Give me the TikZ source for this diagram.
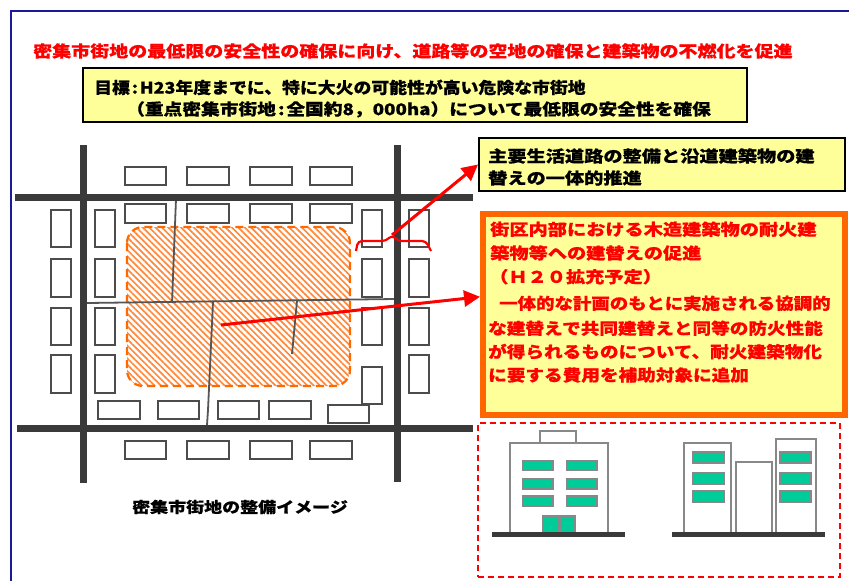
\documentclass[tikz,border=0pt]{standalone}
\usepackage{graphicx}
\usepackage{fontspec}
\setmainfont{Noto Sans CJK JP}[FakeStretch=1.2, BoldFeatures={FakeBold=0.5}]
\usetikzlibrary{arrows.meta,patterns.meta,calc}

\definecolor{framenavy}{HTML}{1A1A99}
\definecolor{roadgray}{HTML}{3A3A3A}
\definecolor{streetgray}{HTML}{555555}
\definecolor{hatchorange}{HTML}{FF8A3D}
\definecolor{zoneorange}{HTML}{FF6A00}
\definecolor{paleyellow}{HTML}{FFFF99}
\definecolor{fireorange}{HTML}{FF6600}
\definecolor{glassteal}{HTML}{00CC99}
\definecolor{wallgray}{HTML}{888888}

% horizontally condensed line of text
\newcommand{\narrowline}[2]{\scalebox{#1}[1]{#2}}

\tikzset{
  road/.style={draw=roadgray, line width=7pt},
  street/.style={draw=streetgray, line width=1.8pt},
  house/.style={draw=black!70, fill=white, line width=1.1pt},
  facade/.style={draw=wallgray, fill=white, line width=1.5pt},
  pane/.style={draw=wallgray, fill=glassteal, line width=1.2pt},
  ground/.style={draw=roadgray, line width=5pt},
  pointer/.style={draw=red, line width=3pt, -{Triangle[length=16pt,width=16pt]}},
  jp/.style={inner sep=0pt, font=\fontsize{16}{20}\selectfont\bfseries},
  jpred/.style={jp, text=red},
  panel/.style={anchor=north west, inner sep=0pt},
}

\begin{document}
\begin{tikzpicture}[x=1pt,y=-1pt]
\useasboundingbox (0,0) rectangle (849,581);

% outer frame
\draw[framenavy, line width=2pt] (849,11) -- (11,11) -- (11,581);

% headline
\node[jpred, anchor=base west] (headline) at (33,57.1)
  {\narrowline{0.99}{密集市街地の最低限の安全性の確保に向け、道路等の空地の確保と建築物の不燃化を促進}};

% goal panel
\node[panel, draw=black, line width=2pt, fill=paleyellow,
      minimum width=664pt, minimum height=54pt] (goal) at (82,67) {};
\node[jp, anchor=base west] (goal1) at (94,93.6)
  {\narrowline{0.93}{目標\hspace{2pt}:\hspace{2pt}H23年度までに、特に大火の可能性が高い危険な市街地}};
\node[jp, anchor=base west] (goal2) at (126,115.1)
  {\narrowline{0.975}{（重点密集市街地\hspace{2pt}:\hspace{2pt}全国約8，000ha）について最低限の安全性を確保}};

% ---------- block map ----------
% hatched core area
\draw[draw=zoneorange, line width=2.2pt, dash pattern=on 8pt off 5pt,
      rounded corners=16pt,
      pattern={Lines[angle=-45,distance=4.5pt,line width=1.7pt]},
      pattern color=hatchorange]
  (127,227) rectangle (350,386);

% narrow streets
\draw[street] (87,303) -- (395,299);
\draw[street] (176,199) -- (172,303);
\draw[street] (213,302) -- (208,410) -- (207,425);
\draw[street] (297,301) -- (292,354);

% buildings along the top and bottom roads
\foreach \xa/\xb in {125/166,187/229,250/292,310/352}{
  \draw[house] (\xa,167) rectangle (\xb,185);
  \draw[house] (\xa,204) rectangle (\xb,223);
  \draw[house] (\xa,441) rectangle (\xb,459);
}
% buildings along the side roads
\foreach \ya/\yb in {210/247,259/297,308/345,355/393}{
  \draw[house] (51,\ya) rectangle (71,\yb);
  \draw[house] (95,\ya) rectangle (115,\yb);
  \draw[house] (409,\ya) rectangle (429,\yb);
}
\foreach \ya/\yb in {210/247,259/297,308/345,367/404}{
  \draw[house] (362,\ya) rectangle (382,\yb);
}
% buildings inside the bottom road
\foreach \xa/\xb in {98/140,158/199,218/259,269/311}{
  \draw[house] (\xa,401) rectangle (\xb,419);
}
\draw[house] (328,405) rectangle (369,423);

% main roads
\draw[road] (15,197) -- (473,197);
\draw[road] (17,428) -- (473,428);
\draw[road] (83,145) -- (83,483);
\draw[road] (397,145) -- (397,482);

% caption
\node[jp, font=\fontsize{15}{18}\selectfont\bfseries] (caption) at (240,507)
  {密集市街地の整備イメージ};

% ---------- right panels ----------
\node[panel, draw=black, line width=2pt, fill=paleyellow,
      minimum width=366pt, minimum height=53pt] (roads) at (478,137) {};
\node[jp, anchor=base west] (roads1) at (488,162.1) {主要生活道路の整備と沿道建築物の建};
\node[jp, anchor=base west] (roads2) at (488,184.1) {替えの一体的推進};

\node[panel, draw=fireorange, line width=6pt, fill=paleyellow,
      minimum width=362pt, minimum height=201pt] (rebuild) at (480,210.7) {};
\node[jpred, anchor=base west] (rb1) at (490,235.4) {街区内部における木造建築物の耐火建};
\node[jpred, anchor=base west] (rb2) at (490,259.1) {築物等への建替えの促進};
\node[jpred, anchor=base west] (rb3) at (489,282.8) {（Ｈ２０拡充予定）};
\node[jpred, anchor=base west] (rb4) at (499,309.4) {\narrowline{0.96}{一体的な計画のもとに実施される協調的}};
\node[jpred, anchor=base west] (rb5) at (488,334.4) {\narrowline{0.97}{な建替えで共同建替えと同等の防火性能}};
\node[jpred, anchor=base west] (rb6) at (488,357.8) {\narrowline{0.97}{が得られるものについて、耐火建築物化}};
\node[jpred, anchor=base west] (rb7) at (488,381.1) {\narrowline{0.97}{に要する費用を補助対象に追加}};

% dashed panel with the two building types
\node[panel, draw=red, line width=2pt, dash pattern=on 6pt off 4pt,
      minimum width=362pt, minimum height=154pt] (types) at (477,422) {};

% single fire-resistant building
\draw[facade] (540,431) rectangle (576,443);
\draw[facade] (510,443) rectangle (608,533);
\foreach \ya/\yb in {461/470,479/489,496/506}{
  \draw[pane] (523,\ya) rectangle (553,\yb);
  \draw[pane] (567,\ya) rectangle (597,\yb);
}
\draw[pane] (543,516) rectangle (559,533);
\draw[pane] (560,516) rectangle (575,533);
\draw[ground] (492,534) -- (625,534);

% jointly rebuilt row of buildings
\draw[facade] (736,462) rectangle (772,533);
\draw[facade] (684,443) rectangle (731,533);
\draw[facade] (776,439) rectangle (816,533);
\foreach \ya/\yb in {452/463,473/484,491/502}{
  \draw[pane] (693,\ya) rectangle (724,\yb);
  \draw[pane] (780,\ya) rectangle (811,\yb);
}
\draw[ground] (672,534) -- (825,534);

% ---------- pointers ----------
\draw[red, line width=2.2pt, rounded corners=4pt]
  (356,251) -- (358,241) -- (386,241) -- (392,235) -- (398,241) -- (426,241) -- (431,251);
\coordinate (bracetip) at (392,235);
\coordinate (corept) at (221,325);
\draw[pointer] (bracetip) -- (roads.west);
\draw[pointer] (corept) -- ($(rebuild.north west)!0.416!(rebuild.south west)$);

\end{tikzpicture}
\end{document}
